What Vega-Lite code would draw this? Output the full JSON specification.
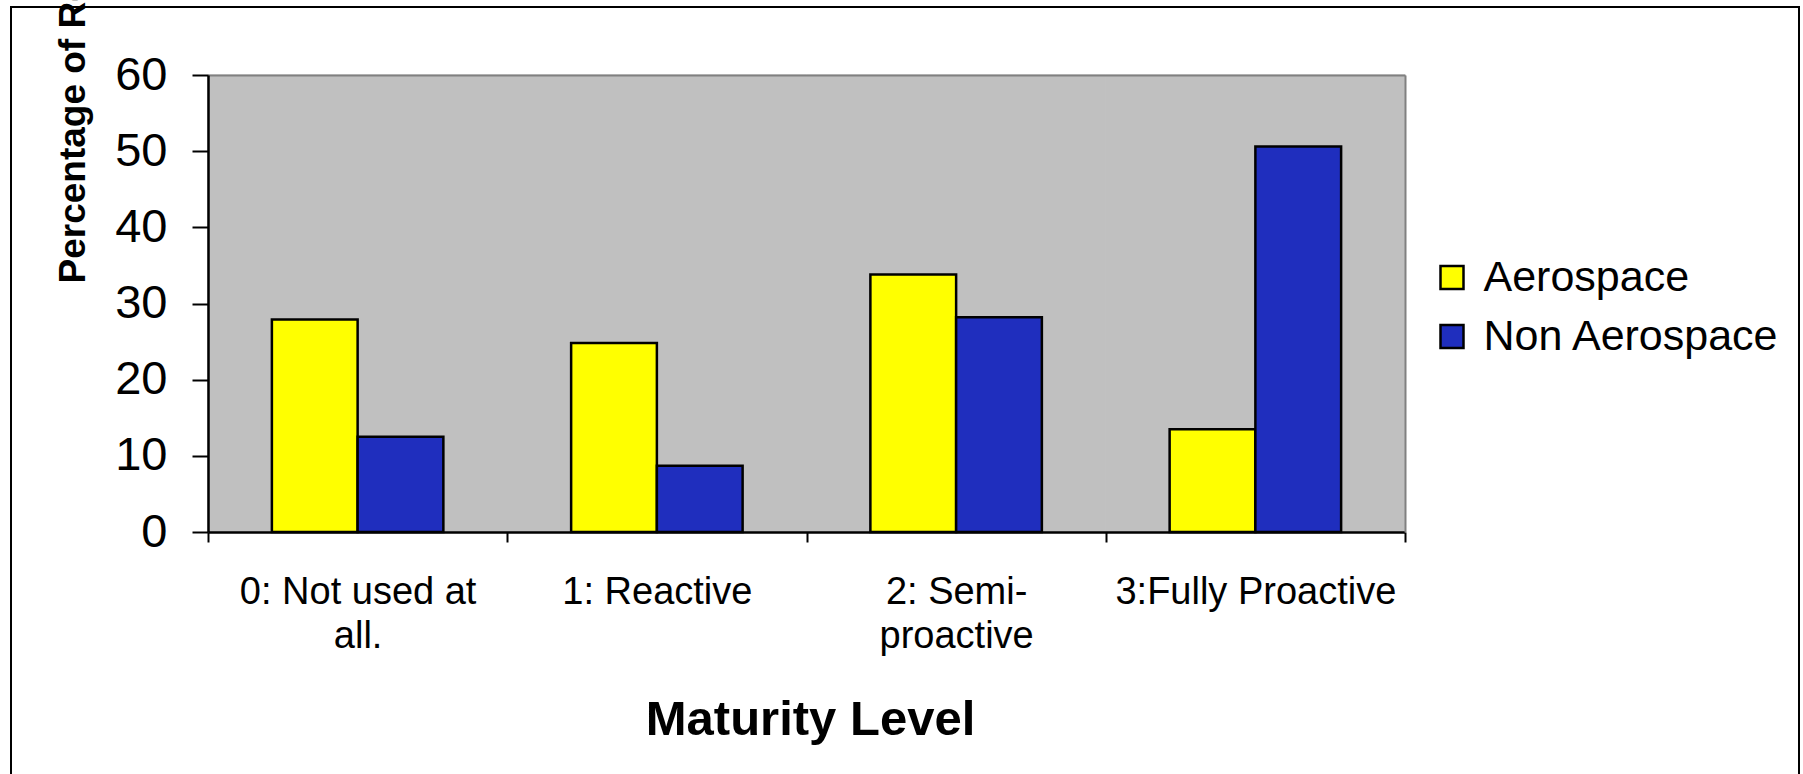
{
  "$schema": "https://vega.github.io/schema/vega-lite/v6.json",
  "width": 1788,
  "height": 767,
  "autosize": {"type": "none"},
  "padding": {"left": 11, "top": 7, "right": 4, "bottom": 0},
  "background": "white",
  "config": {
    "font": "Liberation Sans",
    "view": {"stroke": "black", "strokeWidth": 2, "strokeDash": [2556, 1786, 768, 10], "fill": "white"}
  },
  "data": {
    "values": [
      {"level": "0: Not used at all.", "group": "Aerospace", "pct": 27.9},
      {"level": "0: Not used at all.", "group": "Non Aerospace", "pct": 12.5},
      {"level": "1: Reactive", "group": "Aerospace", "pct": 24.8},
      {"level": "1: Reactive", "group": "Non Aerospace", "pct": 8.7},
      {"level": "2: Semi-proactive", "group": "Aerospace", "pct": 33.8},
      {"level": "2: Semi-proactive", "group": "Non Aerospace", "pct": 28.2},
      {"level": "3:Fully Proactive", "group": "Aerospace", "pct": 13.5},
      {"level": "3:Fully Proactive", "group": "Non Aerospace", "pct": 50.6}
    ]
  },
  "resolve": {"axis": {"x": "independent", "y": "independent"}},
  "layer": [
    {
      "transform": [{"aggregate": [{"op": "count", "as": "n"}], "groupby": ["level"]}],
      "mark": {"type": "rect", "fill": "#C0C0C0", "stroke": "#C0C0C0", "strokeWidth": 1},
      "encoding": {
        "x": {
          "field": "level", "type": "nominal",
          "scale": {"domain": ["0: Not used at all.", "1: Reactive", "2: Semi-proactive", "3:Fully Proactive"], "range": [197, 1394], "paddingInner": 0, "paddingOuter": 0},
          "axis": {
            "orient": "top", "offset": -68, "zindex": 1,
            "domainColor": "#808080", "domainWidth": 2,
            "ticks": false, "labels": false, "grid": false, "title": null
          }
        },
        "y": {
          "datum": 60, "type": "quantitative",
          "axis": {
            "orient": "right", "offset": -394, "zindex": 1,
            "domainColor": "#808080", "domainWidth": 2,
            "ticks": false, "labels": false, "grid": false, "title": null
          }
        },
        "y2": {"datum": 0}
      }
    },
    {
      "mark": {"type": "bar", "stroke": "black", "strokeWidth": 2.5},
      "encoding": {
        "x": {
          "field": "level", "type": "nominal",
          "scale": {"domain": ["0: Not used at all.", "1: Reactive", "2: Semi-proactive", "3:Fully Proactive"], "range": [197, 1394], "paddingInner": 0, "paddingOuter": 0},
          "axis": {
            "title": "Maturity Level",
            "orient": "bottom",
            "offset": -242,
            "zindex": 1,
            "grid": false,
            "domainColor": "black", "domainWidth": 2.5,
            "tickColor": "black", "tickWidth": 2, "tickSize": 10, "tickBand": "extent",
            "labelFont": "Liberation Sans", "labelFontSize": 38, "labelColor": "black",
            "labelPadding": 31, "labelAngle": 0, "labelLineHeight": 44, "labelLimit": 0,
            "labelOverlap": false, "labelFlush": false,
            "labelExpr": "datum.value == '0: Not used at all.' ? ['0: Not used at', 'all.'] : datum.value == '2: Semi-proactive' ? ['2: Semi-', 'proactive'] : datum.label",
            "titleFont": "Liberation Sans", "titleFontSize": 49, "titleFontWeight": "bold", "titleColor": "black",
            "titleX": 799, "titleY": 202, "titleAlign": "center", "titleBaseline": "alphabetic"
          }
        },
        "xOffset": {
          "field": "group", "type": "nominal",
          "scale": {"domain": ["Aerospace", "Non Aerospace"], "paddingInner": 0, "paddingOuter": 0.745}
        },
        "y": {
          "field": "pct", "type": "quantitative",
          "scale": {"domain": [0, 60], "range": [525, 68], "nice": false, "zero": true},
          "axis": {
            "title": "Percentage of Respondents",
            "orient": "left",
            "offset": -197,
            "zindex": 1,
            "grid": false,
            "values": [0, 10, 20, 30, 40, 50, 60],
            "domainColor": "black", "domainWidth": 2.5,
            "tickColor": "black", "tickWidth": 2, "tickSize": 16,
            "labelFont": "Liberation Sans", "labelFontSize": 47, "labelColor": "black",
            "labelPadding": 25, "labelFlush": false,
            "titleFont": "Liberation Sans", "titleFontSize": 37, "titleFontWeight": "bold", "titleColor": "black",
            "titleAngle": -90, "titleX": -124, "titleY": 276, "titleAlign": "left", "titleBaseline": "alphabetic"
          }
        },
        "color": {
          "field": "group", "type": "nominal",
          "scale": {"domain": ["Aerospace", "Non Aerospace"], "range": ["#FFFF00", "#1F2EBE"]},
          "legend": {
            "title": null,
            "orient": "none",
            "legendX": 1419.5,
            "legendY": 249,
            "padding": 0,
            "symbolType": "square",
            "symbolSize": 529,
            "symbolStrokeColor": "black",
            "symbolStrokeWidth": 2.5,
            "symbolOpacity": 1,
            "labelFont": "Liberation Sans",
            "labelFontSize": 43,
            "labelColor": "black",
            "labelOffset": 10,
            "labelLimit": 0,
            "rowPadding": 15
          }
        }
      }
    }
  ]
}
